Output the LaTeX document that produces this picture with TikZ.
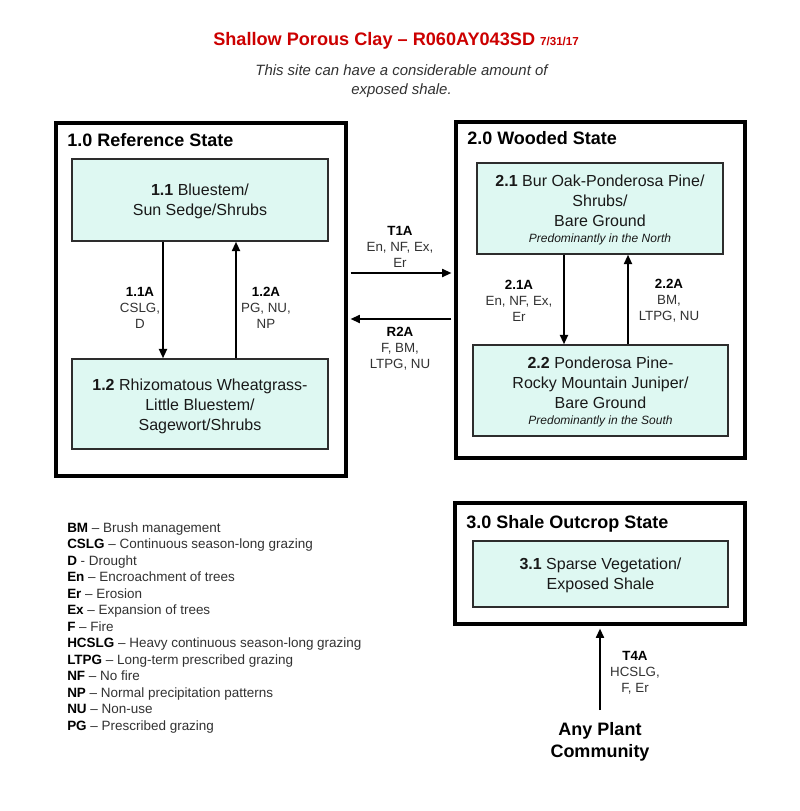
\documentclass[tikz,border=0pt]{standalone}
\usepackage{fontspec}
\setmainfont{Liberation Sans}
\usetikzlibrary{arrows.meta,fit}
\definecolor{titlered}{RGB}{204,0,0}
\definecolor{boxfill}{RGB}{222,248,242}
\definecolor{boxline}{RGB}{45,45,45}
\definecolor{labgray}{RGB}{50,50,50}
\begin{document}
\begin{tikzpicture}[x=0.75pt,y=-0.75pt,
  statebox/.style={draw=black, line width=3.4pt, inner sep=0pt},
  combox/.style={draw=boxline, fill=boxfill, line width=1.1pt, inner sep=0pt},
  ctext/.style={align=center, inner sep=0pt, text=black!90, font=\fontsize{12}{15}\selectfont},
  stitle/.style={anchor=base west, inner sep=0pt, font=\fontsize{13.5}{16}\selectfont\bfseries},
  tlabel/.style={align=center, inner sep=0pt, text=labgray, font=\fontsize{10}{12}\selectfont},
  arr/.style={line width=1.4pt, -{Triangle[length=7pt,width=6pt]}},
  legend/.style={anchor=base west, inner sep=0pt, text=labgray, font=\fontsize{10.1}{12}\selectfont}
]
\useasboundingbox (0,0) rectangle (800,811);
\fill[white] (0,0) rectangle (800,811);

% title
\node[anchor=base west, inner sep=0pt, text=titlered, font=\bfseries] (title) at (213,45)
  {\fontsize{13.6}{16}\selectfont Shallow Porous Clay – R060AY043SD \fontsize{8.7}{10}\selectfont 7/31/17};
\node[align=center, inner sep=0pt, text=labgray, font=\fontsize{11.2}{13.9}\selectfont\itshape] (sub) at (401.5,81)
  {This site can have a considerable amount of\\exposed shale.};

% state 1
\node[statebox, fit={(56,123) (346,476)}] (s1) {};
\node[stitle] (s1t) at (67,146.5) {1.0 Reference State};
\node[combox, fit={(72,159) (328,241)}] (c11) {};
\node[ctext] (c11t) at ([yshift=-1pt]c11.center) {\textbf{1.1} Bluestem/\\Sun Sedge/Shrubs};
\node[combox, fit={(72,359) (328,449)}] (c12) {};
\node[ctext] (c12t) at ([yshift=-1.5pt]c12.center) {\textbf{1.2} Rhizomatous Wheatgrass-\\Little Bluestem/\\Sagewort/Shrubs};
\coordinate (x1) at (163,0);
\coordinate (x2) at (236,0);
\draw[arr] (c11.south -| x1) -- (c12.north -| x1);
\draw[arr] (c12.north -| x2) -- (c11.south -| x2);
\node[tlabel] (l11a) at (140,308) {\textbf{\color{black}1.1A}\\CSLG,\\D};
\node[tlabel] (l12a) at (266,308) {\textbf{\color{black}1.2A}\\PG, NU,\\NP};

% state 2
\node[statebox, fit={(456,122) (745,458)}] (s2) {};
\node[stitle] (s2t) at (467,144.5) {2.0 Wooded State};
\node[combox, fit={(477,163) (723,254)}] (c21) {};
\node[ctext] (c21t) at ([yshift=-1pt]c21.center) {\textbf{2.1} Bur Oak-Ponderosa Pine/\\Shrubs/\\Bare Ground\\[-3pt]{\fontsize{9}{11}\selectfont\itshape Predominantly in the North}};
\node[combox, fit={(473,345) (728,436)}] (c22) {};
\node[ctext] (c22t) at ([yshift=-1pt]c22.center) {\textbf{2.2} Ponderosa Pine-\\Rocky Mountain Juniper/\\Bare Ground\\[-3pt]{\fontsize{9}{11}\selectfont\itshape Predominantly in the South}};
\coordinate (x3) at (564,0);
\coordinate (x4) at (628,0);
\draw[arr] (c21.south -| x3) -- (c22.north -| x3);
\draw[arr] (c22.north -| x4) -- (c21.south -| x4);
\node[tlabel] (l21a) at (519,301) {\textbf{\color{black}2.1A}\\En, NF, Ex,\\Er};
\node[tlabel] (l22a) at (669,301) {\textbf{\color{black}2.2A}\\BM,\\LTPG, NU};

% transitions between states 1 and 2
\coordinate (yt) at (0,273);
\coordinate (yr) at (0,319);
\draw[arr, shorten <=1.7pt, shorten >=1.7pt] (s1.east |- yt) -- (s2.west |- yt);
\draw[arr, shorten <=1.7pt, shorten >=1.7pt] (s2.west |- yr) -- (s1.east |- yr);
\node[tlabel] (t1a) at (400,247) {\textbf{\color{black}T1A}\\En, NF, Ex,\\Er};
\node[tlabel] (r2a) at (400,349) {\textbf{\color{black}R2A}\\F, BM,\\LTPG, NU};

% state 3
\node[statebox, fit={(455,503) (745,624)}] (s3) {};
\node[stitle] (s3t) at (466,528.5) {3.0 Shale Outcrop State};
\node[combox, fit={(473,541) (728,607)}] (c31) {};
\node[ctext] (c31t) at ([yshift=-1pt]c31.center) {\textbf{3.1} Sparse Vegetation/\\Exposed Shale};
\node[align=center, inner sep=0pt, font=\fontsize{13.5}{17}\selectfont\bfseries] (apc) at (600,742) {Any Plant\\Community};
\draw[arr, shorten >=1.7pt] ([yshift=9pt]apc.north) -- (s3.south);
\node[tlabel] (t4a) at (635,673) {\textbf{\color{black}T4A}\\HCSLG,\\F, Er};

% legend
\foreach \ab/\de [count=\i from 0] in {
  BM/{– Brush management},
  CSLG/{– Continuous season-long grazing},
  D/{- Drought},
  En/{– Encroachment of trees},
  Er/{– Erosion},
  Ex/{– Expansion of trees},
  F/{– Fire},
  HCSLG/{– Heavy continuous season-long grazing},
  LTPG/{– Long-term prescribed grazing},
  NF/{– No fire},
  NP/{– Normal precipitation patterns},
  NU/{– Non-use},
  PG/{– Prescribed grazing}}
  \node[legend] (leg\i) at (67,{532+16.5*\i}) {\textbf{\color{black}\ab} \de};
\end{tikzpicture}
\end{document}
